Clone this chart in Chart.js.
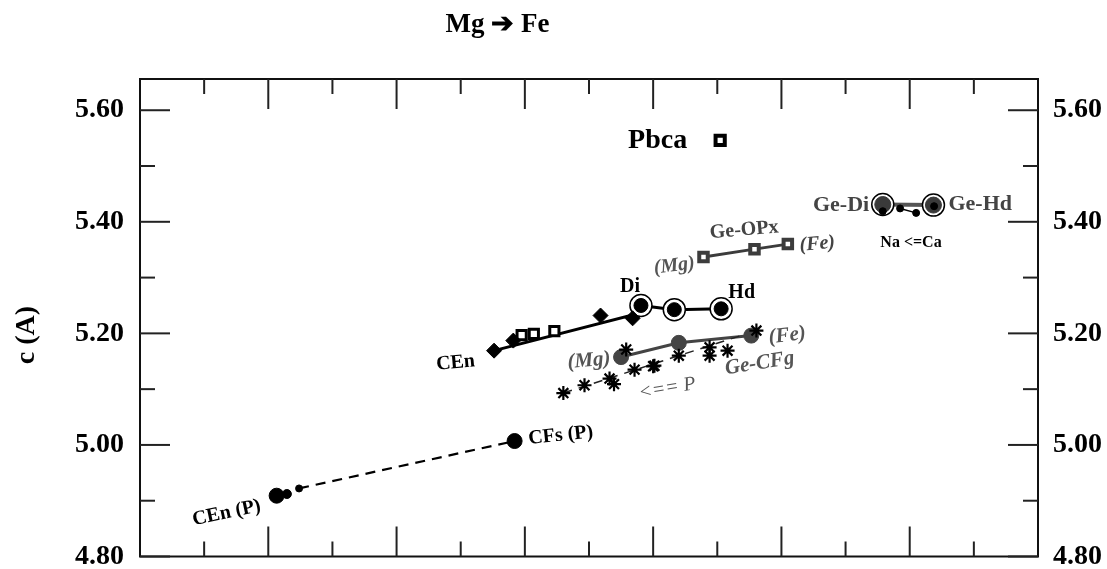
<!DOCTYPE html>
<html>
<head>
<meta charset="utf-8">
<script src="https://cdn.jsdelivr.net/npm/chart.js@4/dist/chart.umd.min.js"></script>
<style>
  html, body { margin: 0; padding: 0; background: #fff; }
  canvas { display: block; }
</style>
</head>
<body>
<canvas id="c" width="1107" height="569"></canvas>
<script>
// ---- axis ticks ----
const yMajorTicks = [4.80, 5.00, 5.20, 5.40, 5.60];
const yMinorTicks = [4.90, 5.10, 5.30, 5.50];
const xMajorTicks = [2, 4, 6, 8, 10, 12];
const xMinorTicks = [1, 3, 5, 7, 9, 11, 13];

// ---- high-pressure CEn(P) -> CFs(P) ----
const hpX = [2.13, 2.29, 2.48, 5.84];
const hpY = [4.909, 4.912, 4.922, 5.007];
const hpSize = [7.5, 4.5, 3.5, 7.5];
const hpDashX = [2.48, 5.84];
const hpDashY = [4.922, 5.007];

// ---- clinoenstatite series ----
const cenDiamondX = [5.52, 5.82, 7.18, 7.68];
const cenDiamondY = [5.169, 5.187, 5.232, 5.227];
const cenSquareX = [5.95, 6.14, 6.46];
const cenSquareY = [5.197, 5.199, 5.204];
const cenLineX = [5.52, 7.74, 7.81];
const cenLineY = [5.169, 5.235, 5.250];

// ---- Di - Hd ----
const diHdX = [7.81, 8.33, 9.06];
const diHdY = [5.250, 5.2425, 5.244];

// ---- Ge-OPx ----
const opxX = [8.785, 9.58, 10.10];
const opxY = [5.337, 5.351, 5.360];

// ---- Pbca ----
const pbcaX = [9.045];
const pbcaY = [5.546];

// ---- Ge-CFg ----
const cfgX = [7.50, 8.40, 9.53];
const cfgY = [5.1575, 5.183, 5.196];

// ---- asterisk series (P) ----
const starX = [6.60, 6.93, 7.32, 7.39, 7.58, 7.71, 8.00, 8.02, 8.40, 8.88, 8.88, 9.16, 9.61];
const starY = [5.093, 5.107, 5.119, 5.109, 5.171, 5.135, 5.141, 5.142, 5.160, 5.175, 5.160, 5.169, 5.205];
const starDashX = [6.60, 9.61];
const starDashY = [5.093, 5.205];

// ---- Ge-Di / Ge-Hd ----
const geRingX = [11.58, 12.37];
const geRingY = [5.431, 5.430];
const geDotX = [11.58, 11.85, 12.10, 12.38];
const geDotY = [5.419, 5.424, 5.416, 5.428];

const pts = (xs, ys) => xs.map((x, i) => ({ x: x, y: ys[i] }));

const SERIF = "'Liberation Serif', 'Times New Roman', serif";
const GREY = '#3c3c3c';

// text annotations anchored in data coordinates
const notes = [
  { t: 'Pbca',    x: 8.07,  y: 5.546, size: 28, w: 'bold', s: 'normal', c: '#000', r: 0 },
  { t: 'Ge-OPx',  x: 9.42,  y: 5.385, size: 20, w: 'bold', s: 'normal', c: '#444', r: -5 },
  { t: '(Mg)',    x: 8.33,  y: 5.321, size: 20, w: 'bold', s: 'italic', c: '#555', r: -7 },
  { t: '(Fe)',    x: 10.56, y: 5.360, size: 20, w: 'bold', s: 'italic', c: '#444', r: -5 },
  { t: 'Di',      x: 7.64,  y: 5.283, size: 20, w: 'bold', s: 'normal', c: '#000', r: 0 },
  { t: 'Hd',      x: 9.38,  y: 5.272, size: 20, w: 'bold', s: 'normal', c: '#000', r: 0 },
  { t: 'CEn',     x: 4.92,  y: 5.147, size: 20, w: 'bold', s: 'normal', c: '#000', r: -5 },
  { t: '(Mg)',    x: 7.00,  y: 5.151, size: 21, w: 'bold', s: 'italic', c: '#555', r: -5 },
  { t: '(Fe)',    x: 10.09, y: 5.196, size: 21, w: 'bold', s: 'italic', c: '#555', r: -7 },
  { t: 'Ge-CFg',  x: 9.66,  y: 5.146, size: 21, w: 'bold', s: 'italic', c: '#555', r: -9 },
  { t: '<== P',   x: 8.22,  y: 5.101, size: 20, w: 'normal', s: 'italic', c: '#555', r: -10 },
  { t: 'CFs (P)', x: 6.56,  y: 5.017, size: 20, w: 'bold', s: 'normal', c: '#000', r: -6 },
  { t: 'CEn (P)', x: 1.35,  y: 4.878, size: 20, w: 'bold', s: 'normal', c: '#000', r: -12 },
  { t: 'Ge-Di',   x: 10.93, y: 5.430, size: 22, w: 'bold', s: 'normal', c: '#444', r: 0 },
  { t: 'Ge-Hd',   x: 13.10, y: 5.431, size: 22, w: 'bold', s: 'normal', c: '#444', r: 0 },
  { t: 'Na <=Ca', x: 12.02, y: 5.363, size: 16, w: 'bold', s: 'normal', c: '#000', r: 0 }
];

const framePlugin = {
  id: 'frame',
  beforeDatasetsDraw(chart) {
    const { ctx, chartArea: a, scales } = chart;
    const xs = scales.x, ys = scales.y;
    ctx.save();
    ctx.strokeStyle = '#111';
    ctx.lineWidth = 2;
    ctx.strokeRect(a.left, a.top, a.right - a.left, a.bottom - a.top);
    ctx.strokeStyle = '#222';
    const tick = (x1, y1, x2, y2) => { ctx.beginPath(); ctx.moveTo(x1, y1); ctx.lineTo(x2, y2); ctx.stroke(); };
    yMajorTicks.forEach(v => {
      const p = ys.getPixelForValue(v);
      tick(a.left, p, a.left + 30, p);
      tick(a.right, p, a.right - 30, p);
    });
    yMinorTicks.forEach(v => {
      const p = ys.getPixelForValue(v);
      tick(a.left, p, a.left + 15, p);
      tick(a.right, p, a.right - 15, p);
    });
    xMajorTicks.forEach(v => {
      const p = xs.getPixelForValue(v);
      tick(p, a.top, p, a.top + 30);
      tick(p, a.bottom, p, a.bottom - 30);
    });
    xMinorTicks.forEach(v => {
      const p = xs.getPixelForValue(v);
      tick(p, a.top, p, a.top + 15);
      tick(p, a.bottom, p, a.bottom - 15);
    });
    ctx.restore();
  },
  afterDraw(chart) {
    const { ctx, scales } = chart;
    ctx.save();
    ctx.textAlign = 'center';
    ctx.textBaseline = 'middle';
    notes.forEach(n => {
      const px = scales.x.getPixelForValue(n.x);
      const py = scales.y.getPixelForValue(n.y);
      ctx.save();
      ctx.translate(px, py);
      ctx.rotate(n.r * Math.PI / 180);
      ctx.font = `${n.s} ${n.w} ${n.size}px ${SERIF}`;
      ctx.fillStyle = n.c;
      ctx.fillText(n.t, 0, 0);
      ctx.restore();
    });
    // heading
    ctx.fillStyle = '#000';
    ctx.font = `bold 27px ${SERIF}`;
    ctx.fillText('Mg \u2794 Fe', 497.5, 25);
    // axis title
    ctx.save();
    ctx.translate(27, 335);
    ctx.rotate(-Math.PI / 2);
    ctx.font = `bold 28px ${SERIF}`;
    ctx.fillText('c (A)', 0, 0);
    ctx.restore();
    ctx.restore();
  }
};

const lineDs = (data, color, width, dash, order) => ({
  data, showLine: true, borderColor: color, borderWidth: width, borderDash: dash || [],
  pointRadius: 0, fill: false, order
});
const markDs = (data, style, radius, bg, border, bw, order) => ({
  data, showLine: false, pointStyle: style, pointRadius: radius, backgroundColor: bg,
  borderColor: border, borderWidth: bw, order
});

const yTickOpts = {
  font: { family: SERIF, size: 28, weight: 'bold', lineHeight: 0.75 },
  color: '#000',
  autoSkip: false,
  callback: v => Number(v).toFixed(2)
};
const setTicks = s => { s.ticks = yMajorTicks.map(v => ({ value: v })); };
// fixed axis widths; tick-label overflow must not shrink the plot area
const fitAxis = w => s => {
  s.width = w;
  s.paddingTop = 0; s.paddingBottom = 0; s.paddingLeft = 0; s.paddingRight = 0;
};

new Chart(document.getElementById('c'), {
  type: 'scatter',
  data: {
    datasets: [
      // lines (behind)
      lineDs(pts(hpDashX, hpDashY), '#000', 2.2, [10, 7], 20),
      lineDs(pts(starDashX, starDashY), '#222', 1.5, [9, 7], 20),
      lineDs(pts(cenLineX, cenLineY), '#000', 3, null, 20),
      lineDs(pts(diHdX, diHdY), '#000', 3, null, 20),
      lineDs(pts(opxX, opxY), GREY, 3, null, 20),
      lineDs(pts(cfgX, cfgY), '#444', 3, null, 20),
      lineDs(pts(geRingX, geRingY), '#555', 4, null, 20),
      lineDs(pts(geDotX.slice(1, 3), geDotY.slice(1, 3)), '#000', 1.5, null, 19),
      // rings
      markDs(pts(diHdX, diHdY), 'circle', 11, '#fff', '#000', 1.5, 10),
      markDs(pts(geRingX, geRingY), 'circle', 11, '#fff', '#000', 1.5, 10),
      // filled markers
      markDs(pts(diHdX, diHdY), 'circle', 7, '#000', '#000', 1, 5),
      markDs(pts(geRingX, geRingY), 'circle', 8, '#3a3a3a', '#3a3a3a', 1, 5),
      markDs(pts(geDotX, geDotY), 'circle', 3.5, '#000', '#000', 1, 4),
      markDs(pts(cfgX, cfgY), 'circle', 7.5, '#444', '#444', 1, 5),
      markDs(pts(starX, starY), 'star', 7, 'rgba(0,0,0,0)', '#000', 2.2, 3),
      markDs(pts(cenDiamondX, cenDiamondY), 'rectRot', 7.5, '#000', '#000', 1, 4),
      markDs(pts(cenSquareX, cenSquareY), 'rect', 6.5, '#fff', '#000', 3, 4),
      markDs(pts(opxX, opxY), 'rect', 6, '#fff', GREY, 4, 4),
      markDs(pts(pbcaX, pbcaY), 'rect', 6.5, '#fff', '#000', 4, 4),
      {
        data: pts(hpX, hpY), showLine: false, pointStyle: 'circle',
        pointRadius: hpSize, backgroundColor: '#000', borderColor: '#000', borderWidth: 1, order: 4
      }
    ]
  },
  options: {
    responsive: false,
    animation: false,
    devicePixelRatio: 1,
    layout: { padding: { top: 79, bottom: 11, left: 0, right: 0 } },
    plugins: { legend: { display: false }, tooltip: { enabled: false } },
    events: [],
    scales: {
      x: { type: 'linear', min: 0, max: 14, display: false },
      y: {
        type: 'linear', position: 'left', min: 4.80, max: 5.656,
        afterFit: fitAxis(140),
        afterBuildTicks: setTicks,
        ticks: Object.assign({ padding: 16 }, yTickOpts),
        grid: { display: false, drawTicks: false },
        border: { display: false }
      },
      y2: {
        type: 'linear', position: 'right', min: 4.80, max: 5.656,
        afterFit: fitAxis(69),
        afterBuildTicks: setTicks,
        ticks: Object.assign({ padding: 15 }, yTickOpts),
        grid: { display: false, drawTicks: false },
        border: { display: false }
      }
    }
  },
  plugins: [framePlugin]
});
</script>
</body>
</html>
